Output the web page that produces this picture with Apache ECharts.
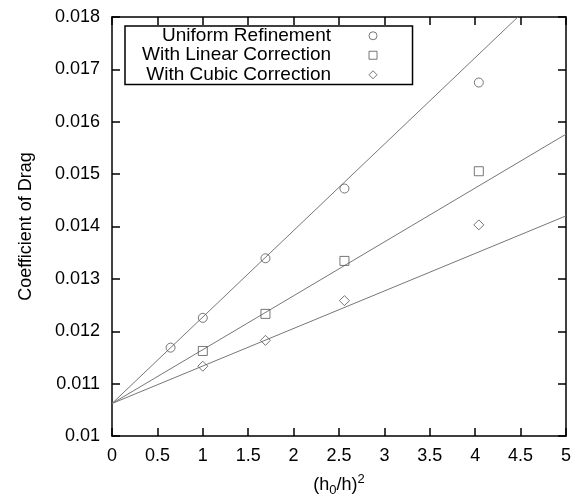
<!DOCTYPE html>
<html>
<head>
    <meta charset="utf-8">
    <script type="text/javascript" src="https://cdn.jsdelivr.net/npm/echarts@6/dist/echarts.min.js"></script>
    <title>drag</title>
    <style>
        html, body { margin: 0; padding: 0; background: #fff; }
    </style>
</head>
<body>
<div id="main" style="width: 574px;height:502px;"></div>
<script type="text/javascript">

    // (h0/h)^2 and drag coefficient
    var xVals = [0.645, 1.0, 1.69, 2.56, 4.04];
    var uniformVals = [0.011687, 0.012256, 0.013393, 0.014725, 0.016749];
    var linearX = [1.0, 1.69, 2.56, 4.04];
    var linearVals = [0.011624, 0.012332, 0.013343, 0.015055];
    var cubicX = [1.0, 1.69, 2.56, 4.04];
    var cubicVals = [0.011333, 0.011826, 0.012585, 0.014031];

    // fitted straight lines, end points
    var uniformFit = [[0, 0.01062], [4.47, 0.018]];
    var linearFit = [[0, 0.01062], [5, 0.015763]];
    var cubicFit = [[0, 0.01062], [5, 0.014202]];

    var seriesNames = ['Uniform Refinement', 'With Linear Correction', 'With Cubic Correction'];

    function pairs(xs, ys) {
        var out = [];
        for (var i = 0; i < xs.length; i++) {
            out.push([xs[i], ys[i]]);
        }
        return out;
    }

    var font = '"Liberation Sans", Arial, Helvetica, sans-serif';
    var markStyle = { color: 'rgba(0,0,0,0)', borderColor: '#555', borderWidth: 1 };
    var fitStyle = { color: '#777', width: 1 };

    var myChart = echarts.init(document.getElementById('main'));

    option = {
        animation: false,
        backgroundColor: '#fff',
        textStyle: { fontFamily: font },
        grid: { left: 112, right: 7, top: 17, bottom: 63 },
        legend: {
            orient: 'vertical',
            left: 125,
            top: 26,
            align: 'right',
            itemWidth: 74,
            itemHeight: 8,
            itemGap: 0,
            padding: [0, 35, 0, 17],
            borderColor: '#000',
            borderWidth: 1.5,
            selectedMode: false,
            itemStyle: { borderWidth: 1 },
            textStyle: { fontSize: 19, color: '#000', lineHeight: 19.5, fontFamily: font },
            data: [
                { name: seriesNames[0], icon: 'circle' },
                { name: seriesNames[1], icon: 'path://M0,0L10,0L10,10L0,10Z' },
                { name: seriesNames[2], icon: 'path://M5,0L10,5L5,10L0,5Z' }
            ]
        },
        xAxis: [{
            type: 'value',
            min: 0,
            max: 5,
            interval: 0.5,
            name: '{a|(h}{sub|0}{a|/h)}{sup|2}',
            nameLocation: 'middle',
            nameGap: 37,
            nameTextStyle: {
                rich: {
                    a: { fontSize: 18, color: '#000', fontFamily: font },
                    sub: { fontSize: 13, color: '#000', fontFamily: font, padding: [11, 0, 0, 0] },
                    sup: { fontSize: 13, color: '#000', fontFamily: font, padding: [0, 0, 11, 0] }
                }
            },
            axisLine: { onZero: false, lineStyle: { color: '#000', width: 1.5 } },
            axisTick: { inside: true, length: 8, lineStyle: { color: '#000', width: 1.5 } },
            axisLabel: { fontSize: 18, color: '#000', margin: 11, fontFamily: font },
            splitLine: { show: false }
        }, {
            type: 'value',
            position: 'top',
            min: 0,
            max: 5,
            interval: 0.5,
            axisLine: { onZero: false, lineStyle: { color: '#000', width: 1.5 } },
            axisTick: { inside: true, length: 8, lineStyle: { color: '#000', width: 1.5 } },
            axisLabel: { show: false },
            splitLine: { show: false }
        }],
        yAxis: [{
            type: 'value',
            min: 0.01,
            max: 0.018,
            interval: 0.001,
            name: 'Coefficient of Drag',
            nameLocation: 'middle',
            nameGap: 77,
            nameTextStyle: { fontSize: 18, color: '#000', fontFamily: font },
            axisLine: { onZero: false, lineStyle: { color: '#000', width: 1.5 } },
            axisTick: { inside: true, length: 8, lineStyle: { color: '#000', width: 1.5 } },
            axisLabel: { fontSize: 18, color: '#000', margin: 12, fontFamily: font },
            splitLine: { show: false }
        }, {
            type: 'value',
            position: 'right',
            min: 0.01,
            max: 0.018,
            interval: 0.001,
            axisLine: { onZero: false, lineStyle: { color: '#000', width: 1.5 } },
            axisTick: { inside: true, length: 8, lineStyle: { color: '#000', width: 1.5 } },
            axisLabel: { show: false },
            splitLine: { show: false }
        }],
        series: [{
            name: 'fit1',
            type: 'line',
            data: uniformFit,
            showSymbol: false,
            silent: true,
            lineStyle: fitStyle,
            z: 1
        }, {
            name: 'fit2',
            type: 'line',
            data: linearFit,
            showSymbol: false,
            silent: true,
            lineStyle: fitStyle,
            z: 1
        }, {
            name: 'fit3',
            type: 'line',
            data: cubicFit,
            showSymbol: false,
            silent: true,
            lineStyle: fitStyle,
            z: 1
        }, {
            name: seriesNames[0],
            type: 'scatter',
            symbol: 'circle',
            symbolSize: 9,
            data: pairs(xVals, uniformVals),
            itemStyle: markStyle,
            z: 3
        }, {
            name: seriesNames[1],
            type: 'scatter',
            symbol: 'rect',
            symbolSize: 9,
            data: pairs(linearX, linearVals),
            itemStyle: markStyle,
            z: 3
        }, {
            name: seriesNames[2],
            type: 'scatter',
            symbol: 'diamond',
            symbolSize: 10,
            data: pairs(cubicX, cubicVals),
            itemStyle: markStyle,
            z: 3
        }]
    };
    myChart.setOption(option);

</script>
</body>
</html>
